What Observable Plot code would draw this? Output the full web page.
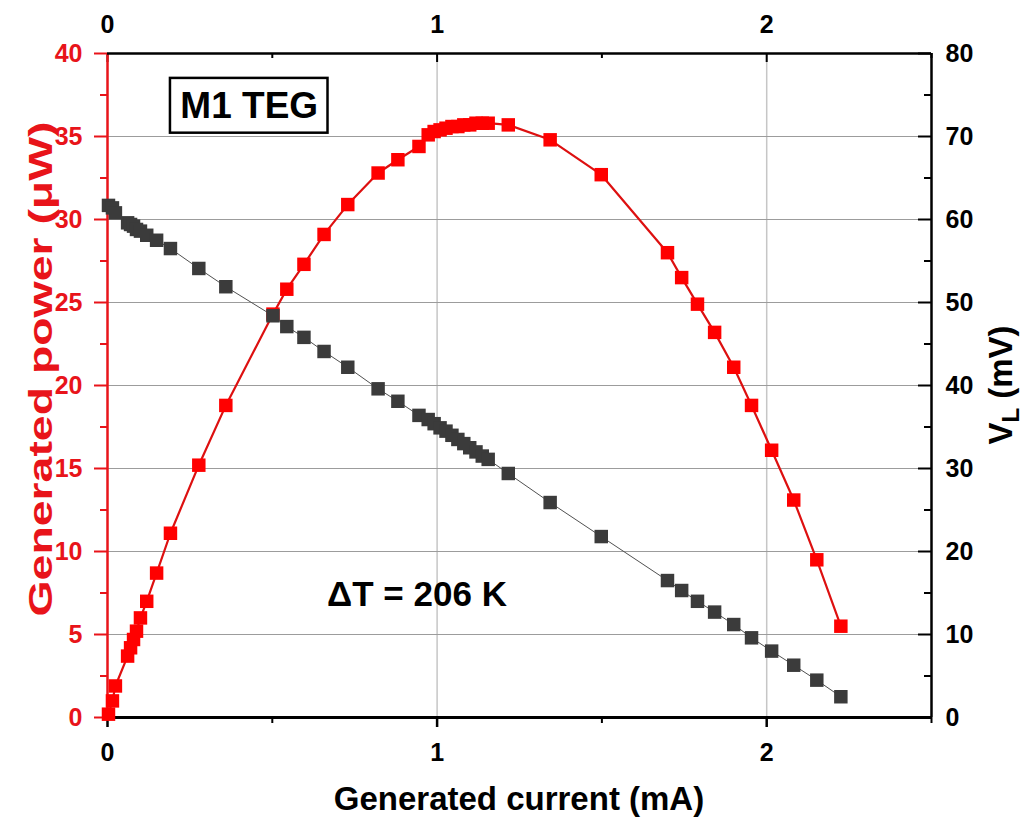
<!DOCTYPE html>
<html><head><meta charset="utf-8">
<script src="https://cdn.jsdelivr.net/npm/d3@7"></script>
<script src="https://cdn.jsdelivr.net/npm/@observablehq/plot@0.6"></script>
<style>
body{margin:0;background:#fff}
#chart{position:relative;width:1024px;height:827px;background:#fff}
#chart svg{position:absolute;left:0;top:0}
</style></head><body><div id="chart"></div>
<script>
// ---- data ----
const current = [0.003,0.015,0.024,0.061,0.070,0.079,0.088,0.100,0.119,0.149,0.191,0.277,0.359,0.502,0.544,0.596,0.657,0.729,0.821,0.881,0.945,
  0.973,0.991,1.009,1.027,1.045,1.063,1.081,1.099,1.118,1.137,1.155,
  1.216,1.343,1.498,1.699,1.742,1.790,1.842,1.900,1.954,2.015,2.082,2.152,2.225];
const power = [0.2,1.0,1.9,3.7,4.2,4.7,5.2,6.0,7.0,8.7,11.1,15.2,18.8,24.3,25.8,27.3,29.1,30.9,32.8,33.6,34.4,
  35.1,35.3,35.4,35.5,35.6,35.6,35.7,35.7,35.8,35.8,35.8,
  35.7,34.8,32.7,28.0,26.5,24.9,23.2,21.1,18.8,16.1,13.1,9.5,5.5];
const voltage = [61.7,61.4,60.8,59.6,59.4,59.2,58.8,58.6,58.1,57.5,56.5,54.1,51.9,48.4,47.1,45.8,44.1,42.2,39.6,38.1,36.4,
  35.9,35.4,34.9,34.5,34.0,33.5,33.0,32.5,32.0,31.5,31.1,
  29.4,25.9,21.8,16.5,15.3,14.0,12.7,11.2,9.6,8.0,6.3,4.5,2.5];
const xTicks = [0,1,2];
const xMinor = [0.5,1.5,2.5];
const powerTicks = [0,5,10,15,20,25,30,35,40];
const powerMinor = [2.5,7.5,12.5,17.5,22.5,27.5,32.5,37.5];
const vTicks = [0,10,20,30,40,50,60,70,80];
const vMinor = [5,15,25,35,45,55,65,75];
const xTitle = "Generated current (mA)";
const yTitle = "Generated power (μW)";
const y2Title = ["V", "L", " (mV)"];
const boxLabel = [{text:"M1 TEG", x:0.43, y:36.85, x1:0.191, x2:0.669, y1:35.2, y2:38.5}];
const noteLabel = [{text:"ΔT = 206 K", x:0.939, y:7.38}];

// ---- layout ----
const W = 1024, H = 827, mL = 107, mR = 93, mT = 53, mB = 110;
const FONT = "'Liberation Sans', Arial, sans-serif";
const RED = "#e8141a";
const pxX = (W - mL - mR) / 2.5;       // pixels per mA
const pxY1 = (H - mT - mB) / 40;       // pixels per µW
const rows = current.map((c, i) => ({current: c, power: power[i], voltage: voltage[i]}));
const fmt = d => String(d);

const common = {width: W, height: H, marginLeft: mL, marginRight: mR, marginTop: mT, marginBottom: mB,
  x: {domain: [0, 2.5], axis: null}};

const p1 = Plot.plot({
  ...common,
  style: {fontFamily: FONT, fontWeight: "bold", background: "transparent", overflow: "visible"},
  y: {domain: [0, 40], axis: null},
  marks: [
    Plot.gridX(xTicks.filter(d => d > 0), {stroke: "#c6c6c6", strokeOpacity: 1, strokeWidth: 1.5}),
    Plot.gridY(powerTicks.filter(d => d > 0 && d < 40), {stroke: "#9c9c9c", strokeOpacity: 1, strokeWidth: 1.2}),
    Plot.axisX({anchor: "bottom", ticks: xMinor, tickSize: 6, tickFormat: () => "", strokeWidth: 2, label: null}),
    Plot.axisX({anchor: "bottom", ticks: xTicks, tickSize: 10, tickPadding: 16, tickFormat: fmt, fontSize: 25, strokeWidth: 2.5, label: null}),
    Plot.axisX({anchor: "top", ticks: xTicks, tickSize: 0, tickPadding: 21, tickFormat: fmt, fontSize: 25, label: null}),
    Plot.ruleX(xTicks, {y1: 40, y2: 40 - 9 / pxY1, stroke: "#000", strokeWidth: 2}),
    Plot.ruleX(xMinor, {y1: 40, y2: 40 - 5 / pxY1, stroke: "#000", strokeWidth: 2}),
    Plot.axisY({anchor: "left", ticks: powerMinor, tickSize: 7, tickFormat: () => "", color: RED, strokeWidth: 2, label: null}),
    Plot.axisY({anchor: "left", ticks: powerTicks, tickSize: 13, tickPadding: 12, tickFormat: fmt, fontSize: 25, color: RED, strokeWidth: 2, label: null}),
    Plot.ruleX([0], {stroke: RED, strokeWidth: 2.5}),
    Plot.ruleY([0], {stroke: "#000", strokeWidth: 3}),
    Plot.ruleY([40], {stroke: "#000", strokeWidth: 2.5}),
    Plot.line(rows, {x: "current", y: "power", stroke: "#dd1010", strokeWidth: 2.2}),
    Plot.dot(rows, {x: "current", y: "power", symbol: "square", r: 7.6, fill: "#ff0000", stroke: "none"}),
    Plot.rect(boxLabel, {x1: "x1", x2: "x2", y1: "y1", y2: "y2", fill: "#fff", stroke: "#000", strokeWidth: 2.5}),
    Plot.text(boxLabel, {x: "x", y: "y", text: "text", fontSize: 37, fontWeight: "bold", fill: "#000"}),
    Plot.text(noteLabel, {x: "x", y: "y", text: "text", fontSize: 35, fontWeight: "bold", fill: "#000"})
  ]
});

const p2 = Plot.plot({
  ...common,
  style: {fontFamily: FONT, fontWeight: "bold", background: "transparent", overflow: "visible"},
  y: {domain: [0, 80], axis: null},
  marks: [
    Plot.ruleX([2.5], {stroke: "#000", strokeWidth: 2.5}),
    Plot.ruleY(vTicks, {x1: 2.5 - 13 / pxX, x2: 2.5, stroke: "#000", strokeWidth: 2}),
    Plot.ruleY(vMinor, {x1: 2.5 - 7 / pxX, x2: 2.5, stroke: "#000", strokeWidth: 2}),
    Plot.axisY({anchor: "right", ticks: vTicks, tickSize: 0, tickPadding: 14, tickFormat: fmt, fontSize: 25, label: null}),
    Plot.line(rows, {x: "current", y: "voltage", stroke: "#505050", strokeWidth: 1}),
    Plot.dot(rows, {x: "current", y: "voltage", symbol: "square", r: 7.6, fill: "#3b3b3b", stroke: "none"})
  ]
});

const chart = document.getElementById("chart");
chart.append(p1, p2);

// axis titles
const s = d3.select(p2);
const cx = mL + (W - mL - mR) / 2;
s.append("text").attr("x", cx).attr("y", 810).attr("text-anchor", "middle")
  .attr("font-family", FONT).attr("font-weight", "bold").attr("font-size", 33).attr("fill", "#000")
  .text(xTitle);
s.append("text").attr("transform", `translate(52,369) rotate(-90)`).attr("text-anchor", "middle")
  .attr("font-family", FONT).attr("font-weight", "bold").attr("font-size", 34).attr("fill", RED)
  .attr("textLength", 495).attr("lengthAdjust", "spacingAndGlyphs")
  .text(yTitle);
const t2 = s.append("text").attr("transform", `translate(1012,385) rotate(-90)`).attr("text-anchor", "middle")
  .attr("font-family", FONT).attr("font-weight", "bold").attr("font-size", 33).attr("fill", "#000");
t2.append("tspan").text(y2Title[0]);
t2.append("tspan").attr("font-size", 24).attr("dy", 7).text(y2Title[1]);
t2.append("tspan").attr("dy", -7).text(y2Title[2]);
</script></body></html>
